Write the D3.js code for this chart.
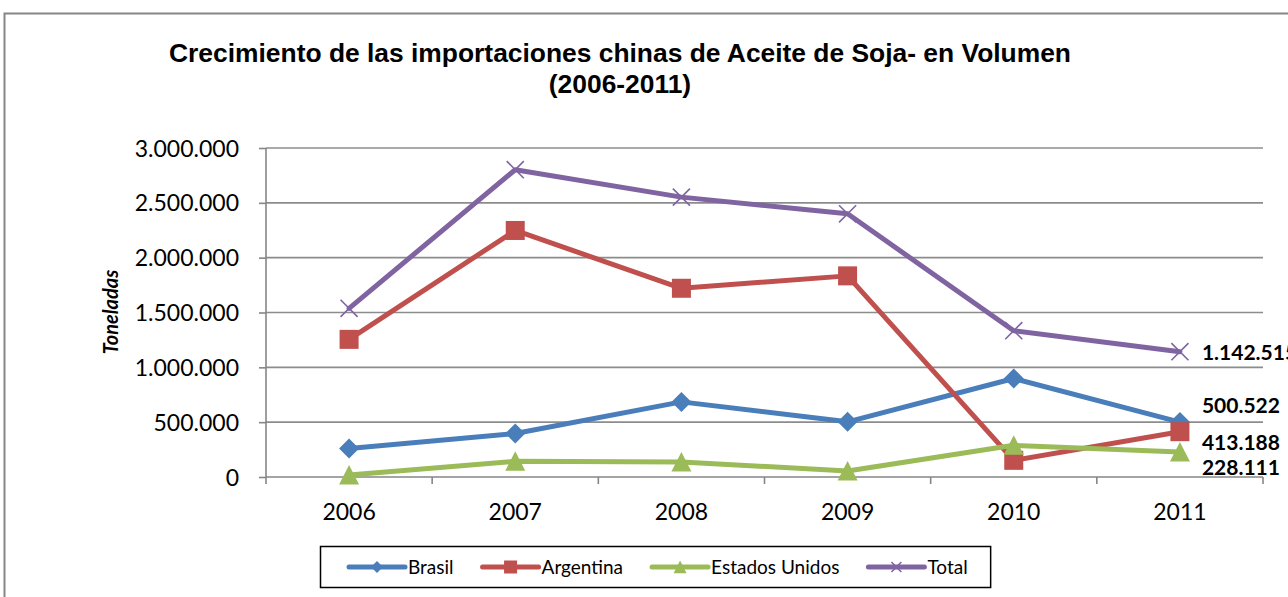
<!DOCTYPE html>
<html>
<head>
<meta charset="utf-8">
<script src="https://cdn.jsdelivr.net/npm/d3@7"></script>
<style>
  html, body { margin: 0; padding: 0; background: #fff; overflow: hidden; }
  svg { display: block; }
</style>
</head>
<body>
<svg id="chart" width="1288" height="597"></svg>
<script>
// ---- data ----
const years = ["2006", "2007", "2008", "2009", "2010", "2011"];
const seriesNames = ["Brasil", "Argentina", "Estados Unidos", "Total"];
const brasil = [259000, 396000, 685000, 503000, 898000, 500522];
const argentina = [1255000, 2248000, 1721000, 1834000, 152000, 413188];
const estadosUnidos = [18000, 143000, 137000, 55000, 289000, 228111];
const total = [1538000, 2802000, 2552000, 2400000, 1334000, 1142515];
const yTicks = [0, 500000, 1000000, 1500000, 2000000, 2500000, 3000000];
const titleLines = ["Crecimiento de las importaciones chinas de Aceite de Soja- en Volumen", "(2006-2011)"];
const yAxisTitle = "Toneladas";

// ---- styles ----
const colors = ["#4A7EBB", "#C0504D", "#9BBB59", "#8064A2"];
const markers = ["diamond", "square", "triangle", "x"];
const lastLabelDy = [-16, 11, 16, 1];

const series = seriesNames.map((name, i) => ({
  name, color: colors[i], marker: markers[i],
  values: [brasil, argentina, estadosUnidos, total][i]
}));

const locale = d3.formatLocale({ decimal: ",", thousands: ".", grouping: [3], currency: ["", ""] });
const fmt = locale.format(",.0f");

const svg = d3.select("#chart");

// chart frame
svg.append("rect")
  .attr("x", 4.5).attr("y", 13.5)
  .attr("width", 1400).attr("height", 700)
  .attr("fill", "#fff").attr("stroke", "#868686").attr("stroke-width", 2);

// title
const title = svg.append("text")
  .attr("text-anchor", "middle")
  .attr("font-family", "'Liberation Sans', Arial, sans-serif")
  .attr("font-weight", "bold").attr("font-size", 26.4).attr("fill", "#000");
titleLines.forEach((t, i) => {
  title.append("tspan").attr("x", 620).attr("y", 62 + i * 31).text(t);
});

// scales
const x = d3.scaleBand().domain(years).range([266, 1263]).padding(0);
const y = d3.scaleLinear().domain([0, 3000000]).range([477, 148]);
const cx = d => x(d) + x.bandwidth() / 2;

// gridlines
svg.append("g")
  .selectAll("line").data(yTicks.filter(t => t > 0)).join("line")
  .attr("x1", 266).attr("x2", 1263)
  .attr("y1", d => y(d)).attr("y2", d => y(d))
  .attr("stroke", "#8c8c8c").attr("stroke-width", 1.6);

// y axis
const yAxis = svg.append("g")
  .attr("transform", "translate(266,0)")
  .call(d3.axisLeft(y).tickValues(yTicks).tickFormat(fmt).tickSize(7).tickPadding(20));
yAxis.select(".domain").attr("stroke", "#868686").attr("stroke-width", 1.6)
  .attr("d", "M0,477V148");
yAxis.selectAll(".tick line").attr("stroke", "#868686").attr("stroke-width", 1.6);
yAxis.selectAll(".tick text")
  .attr("font-family", "Lato, 'Open Sans', sans-serif").attr("font-size", 23)
  .attr("fill", "#000").attr("dy", "0.35em");

// x axis
const xAxis = svg.append("g").attr("transform", "translate(0,477)");
xAxis.append("line").attr("x1", 266).attr("x2", 1263).attr("y1", 0).attr("y2", 0)
  .attr("stroke", "#868686").attr("stroke-width", 1.6);
const bounds = years.map(d => x(d)).concat([x.range()[1]]);
xAxis.selectAll("line.tk").data(bounds).join("line").attr("class", "tk")
  .attr("x1", d => d).attr("x2", d => d).attr("y1", 0).attr("y2", 7)
  .attr("stroke", "#868686").attr("stroke-width", 1.6);
xAxis.selectAll("text").data(years).join("text")
  .attr("x", d => cx(d)).attr("y", 43)
  .attr("text-anchor", "middle")
  .attr("font-family", "Lato, 'Open Sans', sans-serif").attr("font-size", 23)
  .attr("fill", "#000").text(d => d);

// y axis title
svg.append("text")
  .attr("transform", "translate(118,312) rotate(-90)")
  .attr("text-anchor", "middle")
  .attr("font-family", "Lato, 'Open Sans', sans-serif")
  .attr("font-weight", "bold").attr("font-style", "italic").attr("font-size", 20)
  .attr("fill", "#000").text(yAxisTitle);

// marker drawing
function drawMarker(g, type, color, s) {
  if (type === "diamond") {
    g.append("path").attr("d", `M0,${-s}L${s},0L0,${s}L${-s},0Z`).attr("fill", color);
  } else if (type === "square") {
    g.append("rect").attr("x", -s).attr("y", -s).attr("width", 2 * s).attr("height", 2 * s).attr("fill", color);
  } else if (type === "triangle") {
    g.append("path").attr("d", `M0,${-s}L${s},${s * 0.95}L${-s},${s * 0.95}Z`).attr("fill", color);
  } else if (type === "x") {
    const k = s * 0.9;
    g.append("path").attr("d", `M${-k},${-k}L${k},${k}M${-k},${k}L${k},${-k}`)
      .attr("stroke", color).attr("stroke-width", 1.6).attr("fill", "none");
  }
}

const markerSize = { diamond: 10, square: 9.5, triangle: 10, x: 9.5 };

// series
const line = d3.line().x((d, i) => cx(years[i])).y(d => y(d));
series.forEach(s => {
  const g = svg.append("g");
  g.append("path").attr("d", line(s.values))
    .attr("fill", "none").attr("stroke", s.color).attr("stroke-width", 5)
    .attr("stroke-linejoin", "round").attr("stroke-linecap", "round");
  s.values.forEach((v, i) => {
    const mg = g.append("g").attr("transform", `translate(${cx(years[i])},${y(v)})`);
    drawMarker(mg, s.marker, s.color, markerSize[s.marker]);
  });
});

// data labels on last point
series.forEach((s, i) => {
  const last = s.values.length - 1;
  svg.append("text")
    .attr("x", cx(years[last]) + 22)
    .attr("y", y(s.values[last]) + lastLabelDy[i])
    .attr("dy", "0.35em")
    .attr("font-family", "Lato, 'Open Sans', sans-serif")
    .attr("font-weight", "bold").attr("font-size", 21).attr("fill", "#000")
    .text(fmt(s.values[last]));
});

// legend
const legend = svg.append("g");
const legendBox = legend.append("rect")
  .attr("x", 320.5).attr("y", 546.5).attr("height", 41)
  .attr("fill", "#fff").attr("stroke", "#000").attr("stroke-width", 1.5);
let lx = 349;
const ly = 567;
const legendMarker = { diamond: 6, square: 6.5, triangle: 6.5, x: 5.5 };
series.forEach(s => {
  legend.append("line").attr("x1", lx).attr("x2", lx + 56).attr("y1", ly).attr("y2", ly)
    .attr("stroke", s.color).attr("stroke-width", 5).attr("stroke-linecap", "round");
  const mg = legend.append("g").attr("transform", `translate(${lx + 28},${ly})`);
  drawMarker(mg, s.marker, s.color, legendMarker[s.marker]);
  const t = legend.append("text").attr("x", lx + 59).attr("y", 574)
    .attr("font-family", "Lato, 'Open Sans', sans-serif").attr("font-size", 19)
    .attr("fill", "#000").text(s.name);
  lx += 59 + t.node().getComputedTextLength() + 29;
});
legendBox.attr("width", lx - 29 + 23 - 320.5);
</script>
</body>
</html>
